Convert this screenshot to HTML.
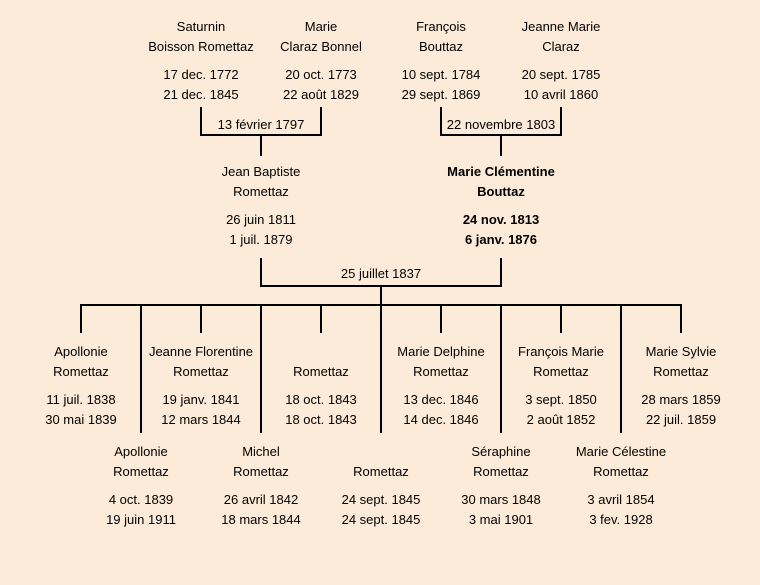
<!DOCTYPE html>
<html><head><meta charset="utf-8"><style>
body{margin:0;width:760px;height:585px;background:#fcebd8;position:relative;overflow:hidden;font-family:"Liberation Sans","DejaVu Sans",sans-serif;font-size:13px;color:#000}
.t{position:absolute;width:150px;margin-left:-75px;text-align:center;line-height:20px;white-space:nowrap}
.t .d{margin-top:8px}
.b{font-weight:bold}
.l{position:absolute;background:#000}
.lab{position:absolute;width:120px;margin-left:-60px;text-align:center;line-height:16px}
</style></head><body>
<div class="l" style="left:200px;top:107px;width:2px;height:29px"></div>
<div class="l" style="left:320px;top:107px;width:2px;height:29px"></div>
<div class="l" style="left:200px;top:134px;width:122px;height:2px"></div>
<div class="l" style="left:260px;top:134px;width:2px;height:22px"></div>
<div class="l" style="left:440px;top:107px;width:2px;height:29px"></div>
<div class="l" style="left:560px;top:107px;width:2px;height:29px"></div>
<div class="l" style="left:440px;top:134px;width:122px;height:2px"></div>
<div class="l" style="left:500px;top:134px;width:2px;height:22px"></div>
<div class="l" style="left:260px;top:258px;width:2px;height:29px"></div>
<div class="l" style="left:500px;top:258px;width:2px;height:29px"></div>
<div class="l" style="left:260px;top:285px;width:242px;height:2px"></div>
<div class="l" style="left:380px;top:285px;width:2px;height:21px"></div>
<div class="l" style="left:80px;top:304px;width:602px;height:2px"></div>
<div class="l" style="left:80px;top:304px;width:2px;height:29px"></div>
<div class="l" style="left:200px;top:304px;width:2px;height:29px"></div>
<div class="l" style="left:320px;top:304px;width:2px;height:29px"></div>
<div class="l" style="left:440px;top:304px;width:2px;height:29px"></div>
<div class="l" style="left:560px;top:304px;width:2px;height:29px"></div>
<div class="l" style="left:680px;top:304px;width:2px;height:29px"></div>
<div class="l" style="left:140px;top:304px;width:2px;height:129px"></div>
<div class="l" style="left:260px;top:304px;width:2px;height:129px"></div>
<div class="l" style="left:380px;top:304px;width:2px;height:129px"></div>
<div class="l" style="left:500px;top:304px;width:2px;height:129px"></div>
<div class="l" style="left:620px;top:304px;width:2px;height:129px"></div>
<div class="lab" style="left:261px;top:117px">13 février 1797</div>
<div class="lab" style="left:501px;top:117px">22 novembre 1803</div>
<div class="lab" style="left:381px;top:266px">25 juillet 1837</div>

<div class="t" style="left:201px;top:17px">Saturnin<br>Boisson Romettaz<div class="d">17 dec. 1772<br>21 dec. 1845</div></div>
<div class="t" style="left:321px;top:17px">Marie<br>Claraz Bonnel<div class="d">20 oct. 1773<br>22 août 1829</div></div>
<div class="t" style="left:441px;top:17px">François<br>Bouttaz<div class="d">10 sept. 1784<br>29 sept. 1869</div></div>
<div class="t" style="left:561px;top:17px">Jeanne Marie<br>Claraz<div class="d">20 sept. 1785<br>10 avril 1860</div></div>

<div class="t" style="left:261px;top:162px">Jean Baptiste<br>Romettaz<div class="d">26 juin 1811<br>1 juil. 1879</div></div>
<div class="t b" style="left:501px;top:162px">Marie Clémentine<br>Bouttaz<div class="d">24 nov. 1813<br>6 janv. 1876</div></div>

<div class="t" style="left:81px;top:342px">Apollonie<br>Romettaz<div class="d">11 juil. 1838<br>30 mai 1839</div></div>
<div class="t" style="left:201px;top:342px">Jeanne Florentine<br>Romettaz<div class="d">19 janv. 1841<br>12 mars 1844</div></div>
<div class="t" style="left:321px;top:342px">&nbsp;<br>Romettaz<div class="d">18 oct. 1843<br>18 oct. 1843</div></div>
<div class="t" style="left:441px;top:342px">Marie Delphine<br>Romettaz<div class="d">13 dec. 1846<br>14 dec. 1846</div></div>
<div class="t" style="left:561px;top:342px">François Marie<br>Romettaz<div class="d">3 sept. 1850<br>2 août 1852</div></div>
<div class="t" style="left:681px;top:342px">Marie Sylvie<br>Romettaz<div class="d">28 mars 1859<br>22 juil. 1859</div></div>

<div class="t" style="left:141px;top:442px">Apollonie<br>Romettaz<div class="d">4 oct. 1839<br>19 juin 1911</div></div>
<div class="t" style="left:261px;top:442px">Michel<br>Romettaz<div class="d">26 avril 1842<br>18 mars 1844</div></div>
<div class="t" style="left:381px;top:442px">&nbsp;<br>Romettaz<div class="d">24 sept. 1845<br>24 sept. 1845</div></div>
<div class="t" style="left:501px;top:442px">Séraphine<br>Romettaz<div class="d">30 mars 1848<br>3 mai 1901</div></div>
<div class="t" style="left:621px;top:442px">Marie Célestine<br>Romettaz<div class="d">3 avril 1854<br>3 fev. 1928</div></div>
</body></html>
